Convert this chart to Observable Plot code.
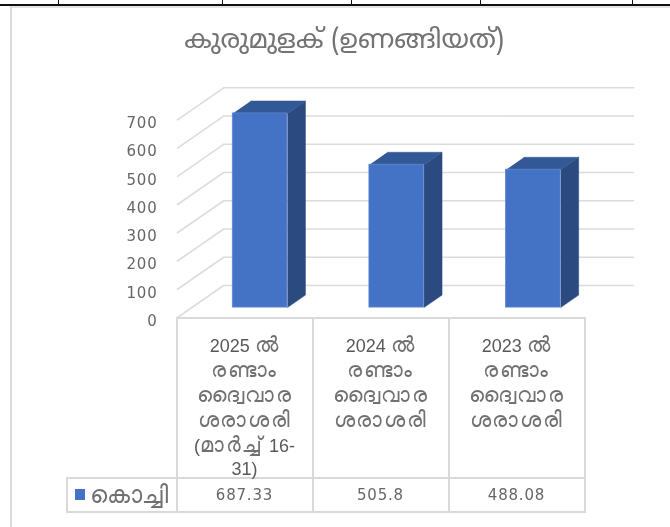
<!DOCTYPE html>
<html><head><meta charset="utf-8">
<script src="https://cdn.jsdelivr.net/npm/d3@7"></script>
<script src="https://cdn.jsdelivr.net/npm/@observablehq/plot@0.6"></script>
<style>
html,body{margin:0;padding:0;background:#fff;width:670px;height:527px;overflow:hidden}
#page{position:relative;width:670px;height:527px;overflow:hidden;filter:blur(.35px)}
#topline{position:absolute;left:0;top:4px;width:670px;height:1.5px;background:#111}
#topthick{position:absolute;left:0;top:3.5px;width:10px;height:2.5px;background:#111}
.notch{position:absolute;top:0;width:1.5px;height:5px;background:#111}
#frameTop{position:absolute;left:10px;top:5.5px;width:660px;height:2px;background:#e4e4e4}
#frameLeft{position:absolute;left:9.5px;top:6px;width:2px;height:521px;background:#d9d9d9}
#title{position:absolute;left:10px;width:668px;top:25px;text-align:center;font:26.5px "Noto Sans Malayalam","Noto Sans","DejaVu Sans",sans-serif;color:#737373;white-space:nowrap}
#chart{position:absolute;left:0;top:0}
#chart text{letter-spacing:.8px}
#table{position:absolute;left:65.5px;top:316.5px;border-collapse:collapse;table-layout:fixed;width:519px;color:#595959}
#table td{border:2px solid #d9d9d9;padding:0;text-align:center}
#table .cat{height:160px;width:136px;vertical-align:top;font:18px/25px "Liberation Sans","Noto Sans",sans-serif;box-sizing:border-box}
#table .cat .wrap{height:120px;padding-top:13px;box-sizing:content-box;overflow:visible}
#table .cat .wrap div{height:25px;white-space:nowrap}
.ml{font-size:21px;line-height:25px;letter-spacing:1.6px;color:#707070}
#table .blank{border:none;border-right:2px solid #d9d9d9;border-bottom:2px solid #d9d9d9;width:109px}
#table .val{height:32px;font:15px "DejaVu Sans",sans-serif;letter-spacing:.8px;color:#666}
#table .key{font:24px "Liberation Sans","Noto Sans",sans-serif;color:#707070;text-align:left;white-space:nowrap;padding-left:7px;box-sizing:border-box;line-height:30px}
.swatch{display:inline-block;width:10.5px;height:10.5px;margin-right:5px;background:#4472c4;vertical-align:3px}
</style></head>
<body><div id="page">
<div id="topline"></div><div id="topthick"></div>
<div id="frameTop"></div><div id="frameLeft"></div>
<div id="title"></div>
<div id="chart"></div>
<table id="table"></table>
</div>
<script>
const chartTitle = "കുരുമുളക് (ഉണങ്ങിയത്)";
const seriesName = "കൊച്ചി";
const categories = ["2025 ൽ\nരണ്ടാം\nദ്വൈവാര\nശരാശരി\n(മാർച്ച് 16-\n31)","2024 ൽ\nരണ്ടാം\nദ്വൈവാര\nശരാശരി","2023 ൽ\nരണ്ടാം\nദ്വൈവാര\nശരാശരി"];
const values = [687.33, 505.8, 488.08];
const valueLabels = ["687.33","505.8","488.08"];
const yTicks = [0,100,200,300,400,500,600,700];
const notches = [58, 222, 351, 480, 632];

// oblique 3-D projection, in data units
const depthX = 0.338, depthY = 113.3;   // what one full floor depth adds to x and to the value
const barHalf = 0.2, barNear = 0.31, barFar = 0.7;
const px = (i, d) => i + d * depthX;
const py = (v, d) => v + d * depthY;

const grid = [];
for (const t of yTicks) {
  grid.push({id:"s"+t, x:px(0,0), y:py(t,0)}, {id:"s"+t, x:px(0,1), y:py(t,1)});
  grid.push({id:"b"+t, x:px(0,1), y:py(t,1)}, {id:"b"+t, x:px(3,1), y:py(t,1)});
}
const fronts = values.map((v,i)=>({x1:px(i+.5-barHalf,barNear), x2:px(i+.5+barHalf,barNear), y1:py(0,barNear), y2:py(v,barNear)}));
const sides = [], tops = [];
values.forEach((v,i)=>{
  const r=i+.5+barHalf, l=i+.5-barHalf;
  for (const [a,b] of [[r,barNear],[r,barFar]]) sides.push({id:i,x:px(a,b),y:py(0,b)});
  for (const [a,b] of [[r,barFar],[r,barNear]]) sides.push({id:i,x:px(a,b),y:py(v,b)});
  for (const [a,b] of [[l,barNear],[r,barNear],[r,barFar],[l,barFar]]) tops.push({id:i,x:px(a,b),y:py(v,b)});
});

const plot = Plot.plot({
  width:670, height:330,
  marginLeft:177, marginRight:37, marginTop:87.3, marginBottom:13,
  style:{background:"transparent",overflow:"visible"},
  x:{type:"linear",domain:[0,3+depthX],axis:null},
  y:{type:"linear",domain:[0,700+depthY],label:null},
  marks:[
    Plot.line(grid,{x:"x",y:"y",z:"id",stroke:"#dcdcdc",strokeWidth:1.6}),
    Plot.axisY(yTicks,{anchor:"left",tickSize:0,tickPadding:20,fontSize:15,fontFamily:"DejaVu Sans",fill:"#666",label:null,dy:3.5}),
    Plot.line(sides,{x:"x",y:"y",z:"id",fill:"#2b4a80",stroke:"#2b4a80",strokeWidth:.5}),
    Plot.line(tops,{x:"x",y:"y",z:"id",fill:"#335896",stroke:"#335896",strokeWidth:.5}),
    Plot.rect(fronts,{x1:"x1",x2:"x2",y1:"y1",y2:"y2",fill:"#4472c4",stroke:"#6288d0",strokeWidth:.8})
  ]
});
document.getElementById("chart").appendChild(plot);
document.getElementById("title").textContent = chartTitle;

const page=document.getElementById("page");
for(const n of notches){const e=document.createElement("div");e.className="notch";e.style.left=(n-.5)+"px";page.appendChild(e);}

const table=document.getElementById("table");
const r1=table.insertRow(), r2=table.insertRow();
r1.insertCell().className="blank";
// Malayalam runs are set larger than Latin digits, as in the reference
const addRuns=(el,line)=>{
  for(const part of line.split(/([\u0D00-\u0D7F]+)/)){
    if(!part) continue;
    if(/[\u0D00-\u0D7F]/.test(part)){const s=document.createElement("span");s.className="ml";s.textContent=part;el.appendChild(s);}
    else el.appendChild(document.createTextNode(part));
  }
};
categories.forEach(c=>{
  const td=r1.insertCell();td.className="cat";
  const w=document.createElement("div");w.className="wrap";td.appendChild(w);
  c.split("\n").forEach(l=>{const d=document.createElement("div");addRuns(d,l);w.appendChild(d);});
});
const k=r2.insertCell();k.className="key";
const sw=document.createElement("span");sw.className="swatch";k.appendChild(sw);k.appendChild(document.createTextNode(seriesName));
valueLabels.forEach(v=>{const td=r2.insertCell();td.className="val";td.textContent=v;});
</script>
</body></html>
